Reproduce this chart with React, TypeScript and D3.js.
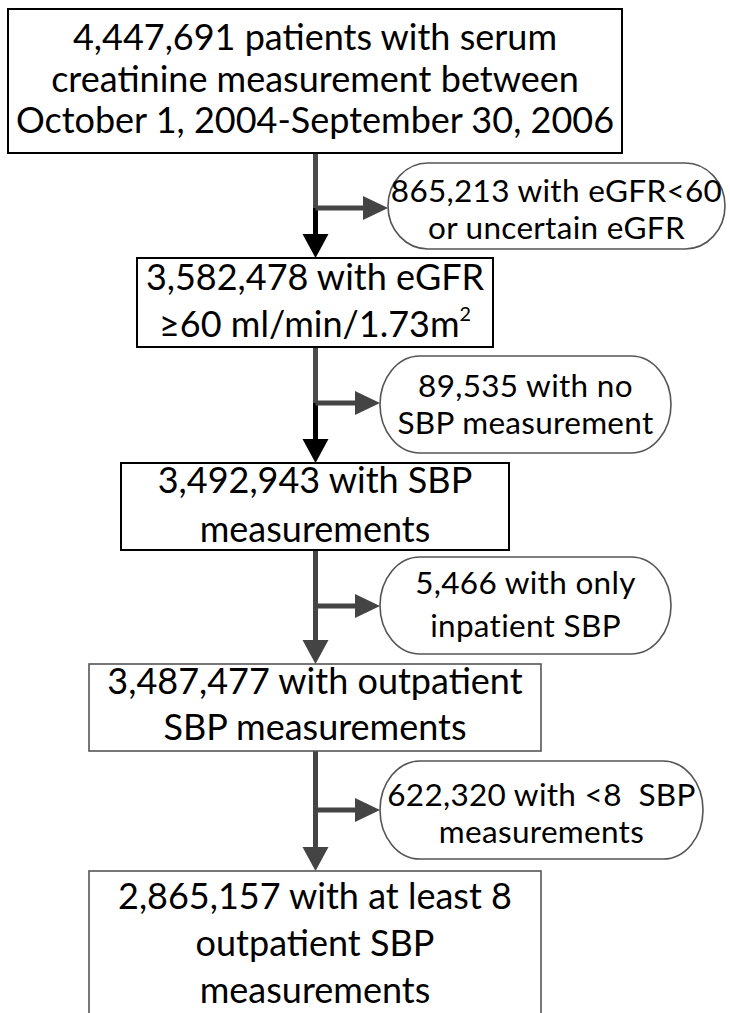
import React from "react";
import * as d3 from "d3";

// ---- data ----
const remainingCounts = [4447691, 3582478, 3492943, 3487477, 2865157];
const remainingLabels = [
  ["{n} patients with serum", "creatinine measurement between", "October 1, 2004-September 30, 2006"],
  ["{n} with eGFR", "≥60 ml/min/1.73m^2"],
  ["{n} with SBP", "measurements"],
  ["{n} with outpatient", "SBP measurements"],
  ["{n} with at least 8", "outpatient SBP", "measurements"],
];
const excludedCounts = [865213, 89535, 5466, 622320];
const excludedLabels = [
  ["{n} with eGFR<60", "or uncertain eGFR"],
  ["{n} with no", "SBP measurement"],
  ["{n} with only", "inpatient SBP"],
  ["{n} with <8  SBP", "measurements"],
];

// ---- layout ----
const W = 730;
const H = 1013;
const MAIN_X = 315.5;
const FONT = "Lato, 'Open Sans', sans-serif";
const BOX_FS = 36;
const OVAL_FS = 31.5;

const boxLayout = [
  { x0: 8, x1: 622, y0: 9, y1: 153, base: [50, 91.5, 133], stroke: "#000", sw: 2 },
  { x0: 137, x1: 493, y0: 258, y1: 347, base: [290, 337], stroke: "#000", sw: 2 },
  { x0: 121, x1: 509, y0: 463, y1: 550, base: [493, 542], stroke: "#000", sw: 2 },
  { x0: 89, x1: 541, y0: 664, y1: 751, base: [694, 740], stroke: "#555", sw: 1.6 },
  { x0: 89, x1: 541, y0: 871, y1: 1030, base: [909, 956, 1003], stroke: "#555", sw: 1.6 },
];
const ovalLayout = [
  { x0: 388, x1: 725, y0: 163, y1: 249, base: [202, 239] },
  { x0: 380, x1: 671, y0: 356, y1: 453, base: [397, 434] },
  { x0: 380, x1: 671, y0: 557, y1: 654, base: [594, 637] },
  { x0: 380, x1: 703, y0: 761, y1: 859, base: [806, 843] },
];
const branchY = [208, 403, 606, 810];
const upperColor = ["#4a4a4a", "#4a4a4a", "#444", "#444"];
const lowerColor = ["#000", "#000", "#444", "#444"];
const branchColor = "#444";

const fmt = d3.format(",");

function renderLine(s: string, fs: number) {
  if (s.includes("^")) {
    const [a, b] = s.split("^");
    return (
      <>
        {a}
        <tspan fontSize={fs * 0.55} dy={-fs * 0.45}>{b}</tspan>
      </>
    );
  }
  return s;
}

export default function App() {
  const lineGen = d3.line<[number, number]>();
  const arrowHeadDown = (x: number, yTip: number) =>
    lineGen([[x - 13, yTip - 24], [x + 13, yTip - 24], [x, yTip]]) + "Z";
  const arrowHeadRight = (xTip: number, y: number) =>
    lineGen([[xTip - 25, y - 12], [xTip - 25, y + 12], [xTip, y]]) + "Z";

  return (
    <svg
      width={W}
      height={H}
      style={{ position: "absolute", left: 0, top: 0, background: "#fff" }}
      fontFamily={FONT}
    >
      <rect x={0} y={0} width={W} height={H} fill="#fff" />
      {/* connectors */}
      {branchY.map((by, i) => {
        const top = boxLayout[i].y1;
        const bottom = boxLayout[i + 1].y0;
        const ov = ovalLayout[i];
        return (
          <g key={"c" + i}>
            <path d={lineGen([[MAIN_X, top], [MAIN_X, by + 2.5]]) || ""} stroke={upperColor[i]} strokeWidth={5} fill="none" />
            <path d={lineGen([[MAIN_X, by], [MAIN_X, bottom - 22]]) || ""} stroke={lowerColor[i]} strokeWidth={5} fill="none" />
            <path d={arrowHeadDown(MAIN_X, bottom)} fill={lowerColor[i]} />
            <path d={lineGen([[MAIN_X, by], [ov.x0 - 22, by]]) || ""} stroke={branchColor} strokeWidth={5} fill="none" />
            <path d={arrowHeadRight(ov.x0, by)} fill={branchColor} />
          </g>
        );
      })}
      {/* boxes */}
      {boxLayout.map((b, i) => (
        <g key={"b" + i}>
          <rect x={b.x0} y={b.y0} width={b.x1 - b.x0} height={b.y1 - b.y0} fill="#fff" stroke={b.stroke} strokeWidth={b.sw} />
          {remainingLabels[i].map((ln, j) => (
            <text key={j} x={(b.x0 + b.x1) / 2} y={b.base[j]} textAnchor="middle" fontSize={BOX_FS} fill="#000" style={{ whiteSpace: "pre" }}>
              {renderLine(ln.replace("{n}", fmt(remainingCounts[i])), BOX_FS)}
            </text>
          ))}
        </g>
      ))}
      {/* exclusion ovals */}
      {ovalLayout.map((o, i) => (
        <g key={"o" + i}>
          <rect x={o.x0} y={o.y0} width={o.x1 - o.x0} height={o.y1 - o.y0} rx={40} ry={(o.y1 - o.y0) / 2} fill="#fff" stroke="#555" strokeWidth={1.6} />
          {excludedLabels[i].map((ln, j) => (
            <text key={j} x={(o.x0 + o.x1) / 2} y={o.base[j]} textAnchor="middle" fontSize={OVAL_FS} letterSpacing={0.3} fill="#000" style={{ whiteSpace: "pre" }}>
              {ln.replace("{n}", fmt(excludedCounts[i]))}
            </text>
          ))}
        </g>
      ))}
    </svg>
  );
}
